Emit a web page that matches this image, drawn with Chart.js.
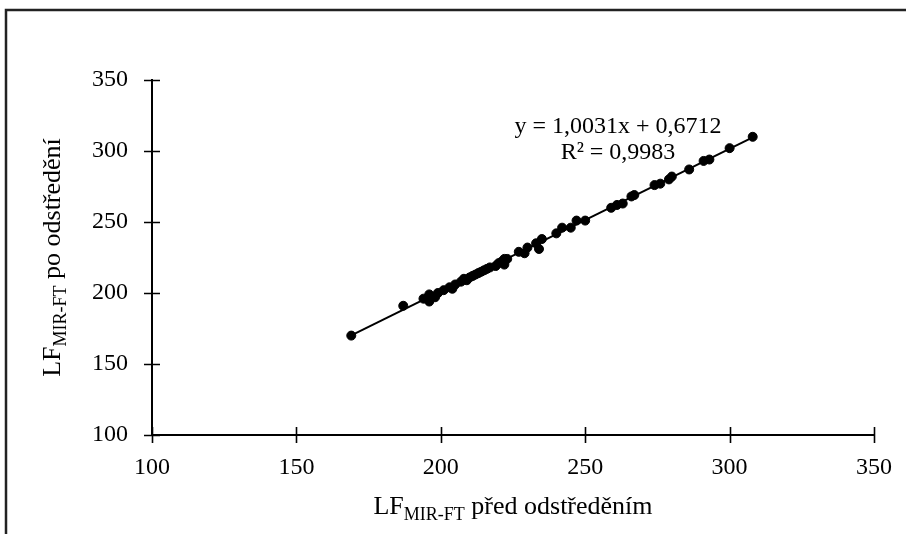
<!DOCTYPE html>
<html>
<head>
<meta charset="utf-8">
<script src="https://cdn.jsdelivr.net/npm/chart.js@4.4.1/dist/chart.umd.min.js"></script>
<style>
  html, body { margin: 0; padding: 0; background: #fff; }
  #wrap { width: 906px; height: 534px; position: relative; }
</style>
</head>
<body>
<div id="wrap"><canvas id="c" width="906" height="534"></canvas></div>
<script>
// LF MIR-FT před odstředěním (x) vs. po odstředění (y)
const xBefore = [169, 187, 194, 196, 196, 198, 199, 201, 203, 204, 205, 207, 208, 209, 210, 211, 212, 213, 214, 215,
                 216, 217, 219, 220, 221, 222, 223, 222, 227, 229, 230, 233, 234, 235, 240, 242, 245, 247, 250, 259,
                 261, 263, 266, 267, 274, 276, 279, 280, 286, 291, 293, 300, 308];
const yAfter  = [170, 191, 196, 194, 199, 197, 200, 202, 204, 203, 206, 208, 210, 209, 211, 212, 213, 214, 215, 216,
                 217, 218, 219, 221, 222, 224, 224, 220, 229, 228, 232, 235, 231, 238, 242, 246, 246, 251, 251, 260,
                 262, 263, 268, 269, 276, 277, 280, 282, 287, 293, 294, 302, 310];
const axisTicks = [100, 150, 200, 250, 300, 350];
const slope = 1.0031;
const intercept = 0.6712;
const eqText = 'y = 1,0031x + 0,6712';
const r2Text = 'R² = 0,9983';

const SERIF = "'Liberation Serif', 'Times New Roman', serif";
const points = xBefore.map((x, i) => ({x: x, y: yAfter[i]}));
const xMin = Math.min(...xBefore), xMax = Math.max(...xBefore);
const trend = [{x: xMin, y: slope * xMin + intercept}, {x: xMax, y: slope * xMax + intercept}];

// bílé pozadí + rámeček grafu
const framePlugin = {
  id: 'frame',
  beforeDraw(chart) {
    const ctx = chart.ctx;
    ctx.save();
    ctx.fillStyle = '#fff';
    ctx.fillRect(0, 0, chart.width, chart.height);
    ctx.strokeStyle = '#222';
    ctx.lineWidth = 2.5;
    ctx.strokeRect(6, 10, chart.width + 20, chart.height + 20);
    ctx.restore();
  }
};

// tick marks přes osu (obě strany)
const crossTicks = {
  id: 'crossTicks',
  afterDraw(chart) {
    const {ctx, chartArea: a, scales: {x, y}} = chart;
    ctx.save();
    ctx.strokeStyle = '#000';
    ctx.lineWidth = 1.6;
    ctx.beginPath();
    x.ticks.forEach(t => { const px = Math.round(x.getPixelForValue(t.value)) + 0.5; ctx.moveTo(px, a.bottom - 8); ctx.lineTo(px, a.bottom + 8); });
    y.ticks.forEach(t => { const py = Math.round(y.getPixelForValue(t.value)) + 0.5; ctx.moveTo(a.left - 8, py); ctx.lineTo(a.left + 8, py); });
    ctx.stroke();
    ctx.restore();
  }
};

function drawSubLabel(ctx, parts, cx, cy) {
  // parts: [[text, isSub]]
  const big = '26px ' + SERIF, small = '18px ' + SERIF;
  let w = 0;
  parts.forEach(([t, s]) => { ctx.font = s ? small : big; w += ctx.measureText(t).width; });
  let xx = cx - w / 2;
  parts.forEach(([t, s]) => {
    ctx.font = s ? small : big;
    ctx.fillText(t, xx, s ? cy + 6 : cy);
    xx += ctx.measureText(t).width;
  });
}

const textPlugin = {
  id: 'texts',
  afterDraw(chart) {
    const {ctx, chartArea: a} = chart;
    ctx.save();
    ctx.fillStyle = '#000';
    ctx.textBaseline = 'alphabetic';
    ctx.textAlign = 'left';
    // název osy x
    drawSubLabel(ctx, [['LF', false], ['MIR-FT', true], [' před odstředěním', false]], (a.left + a.right) / 2, 514);
    // název osy y
    ctx.save();
    ctx.translate(60, (a.top + a.bottom) / 2);
    ctx.rotate(-Math.PI / 2);
    drawSubLabel(ctx, [['LF', false], ['MIR-FT', true], [' po odstředění', false]], 0, 0);
    ctx.restore();
    // rovnice regrese
    ctx.textAlign = 'center';
    ctx.font = '24px ' + SERIF;
    ctx.fillText(eqText, 618, 133);
    ctx.fillText(r2Text, 618, 159);
    ctx.restore();
  }
};

new Chart(document.getElementById('c'), {
  type: 'scatter',
  data: {
    datasets: [
      {label: 'trend', data: trend, showLine: true, borderColor: '#000', borderWidth: 2, pointRadius: 0, order: 2},
      {label: 'LF', data: points, backgroundColor: '#000', borderColor: '#000', pointRadius: 4.5, pointHoverRadius: 4.5, order: 1}
    ]
  },
  options: {
    responsive: false,
    animation: false,
    devicePixelRatio: 1,
    layout: {padding: {left: 0, top: 80, right: 32, bottom: 0}},
    plugins: {legend: {display: false}, tooltip: {enabled: false}},
    scales: {
      x: {
        type: 'linear', min: 100, max: 350,
        afterBuildTicks: s => { s.ticks = axisTicks.map(v => ({value: v})); },
        afterFit: s => { s.height = 99; },
        grid: {display: true, drawOnChartArea: false, drawTicks: true, tickLength: 8, color: 'rgba(0,0,0,0)'},
        border: {display: true, color: '#000', width: 2},
        ticks: {padding: 10, color: '#000', font: {family: SERIF, size: 24}, maxRotation: 0}
      },
      y: {
        type: 'linear', min: 100, max: 350,
        afterBuildTicks: s => { s.ticks = axisTicks.map(v => ({value: v})); },
        afterFit: s => { s.width = 152; },
        grid: {display: true, drawOnChartArea: false, drawTicks: true, tickLength: 8, color: 'rgba(0,0,0,0)'},
        border: {display: true, color: '#000', width: 2},
        ticks: {padding: 16, color: '#000', font: {family: SERIF, size: 24}}
      }
    }
  },
  plugins: [framePlugin, crossTicks, textPlugin]
});
</script>
</body>
</html>
